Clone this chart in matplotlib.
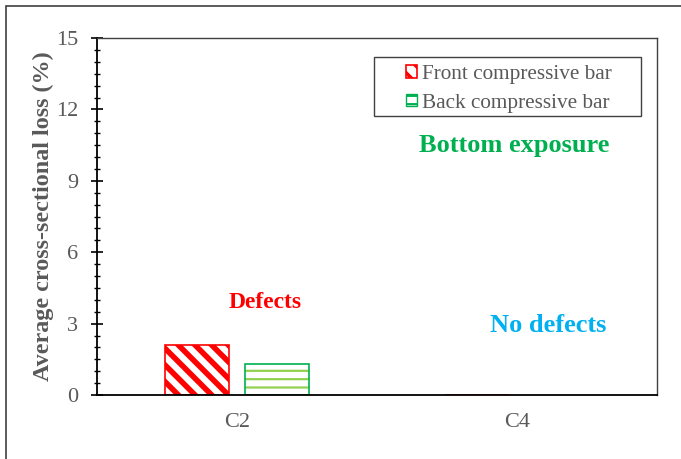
import matplotlib
matplotlib.use("Agg")
import matplotlib.pyplot as plt
import numpy as np
from matplotlib.ticker import MultipleLocator
from matplotlib.patches import Rectangle

plt.rcParams['font.family'] = ['Liberation Serif', 'DejaVu Serif']
plt.rcParams['hatch.linewidth'] = 4.0

categories = ["C2", "C4"]
front = [2.1, 0.0]
back = [1.3, 0.0]
series_labels = ["Front compressive bar", "Back compressive bar"]

W, H = 681, 459
fig = plt.figure(figsize=(W/100, H/100), dpi=100)
ax = fig.add_axes([97/W, 1-395/H, (657-97)/W, (395-38)/H])

# outer frame
fig.patches.append(Rectangle((6/W, -0.1), 1.2, 1 - 6/H + 0.1, transform=fig.transFigure,
                             fill=False, edgecolor='#404040', linewidth=1.2))

x = np.arange(len(categories))
w = 0.228
off = 0.142
b1 = ax.bar(x - off, front, w, facecolor='white', edgecolor='#FF0000', hatch='\\\\',
            linewidth=1.2, label=series_labels[0])
plt.rcParams['hatch.linewidth'] = 1.6
b2 = ax.bar(x + off, back, w, facecolor='white', edgecolor='#92D050', hatch='--',
            linewidth=0, label=series_labels[1])
for p, v in zip(b2, back):
    if v > 0:
        ax.add_patch(Rectangle(p.get_xy(), p.get_width(), p.get_height(), fill=False,
                               edgecolor='#00B050', linewidth=1.2))

ax.set_xlim(-0.5, 1.5)
ax.set_ylim(0, 15)
ax.set_xticks(x)
ax.set_xticklabels(categories)
ax.yaxis.set_major_locator(MultipleLocator(3))
ax.yaxis.set_minor_locator(MultipleLocator(0.5))
ax.tick_params(axis='y', which='major', direction='inout', length=8, width=1.2,
               labelsize=16, labelcolor='#595959', pad=9.5)
ax.tick_params(axis='y', which='minor', direction='inout', length=5, width=1.0)
ax.tick_params(axis='x', which='both', length=0, labelsize=16, labelcolor='#595959', pad=13)
for s in ['left', 'bottom']:
    ax.spines[s].set_linewidth(1.3)
    ax.spines[s].set_color('black')
for s in ['top', 'right']:
    ax.spines[s].set_linewidth(1.0)
    ax.spines[s].set_color('#404040')

ax.set_ylabel("Average cross-sectional loss (%)", fontsize=17.4, fontweight='bold',
              color='#595959', labelpad=1.5)

ax.text(0.1, 3.9, "Defects", color='#FF0000', fontsize=17, fontweight='bold', ha='center', va='center')
ax.text(1.11, 2.92, "No defects", color='#00B0F0', fontsize=19, fontweight='bold', ha='center', va='center')
ax.text(0.99, 10.47, "Bottom exposure", color='#00B050', fontsize=19, fontweight='bold', ha='center', va='center')

# legend frame (wide box with centred entries)
fig.patches.append(Rectangle((374/W, 1-116/H), (641-374)/W, (116-57)/H, transform=fig.transFigure,
                             fill=False, edgecolor='#404040', linewidth=1.0, zorder=5))
leg = ax.legend(loc='upper left', bbox_to_anchor=(406/W, 1-65/H), bbox_transform=fig.transFigure,
                fontsize=15.3, frameon=False,
                handlelength=0.5, handleheight=0.5, handletextpad=0.25, borderpad=0,
                labelspacing=0.45, borderaxespad=0)
for t in leg.get_texts():
    t.set_color('#595959')
if hasattr(leg.legend_handles[0], 'set_hatch_linewidth'):
    leg.legend_handles[0].set_hatch_linewidth(2.5)
leg.legend_handles[1].set_edgecolor('#00B050')
leg.legend_handles[1].set_linewidth(1.0)

fig.savefig("out.png", dpi=100)
